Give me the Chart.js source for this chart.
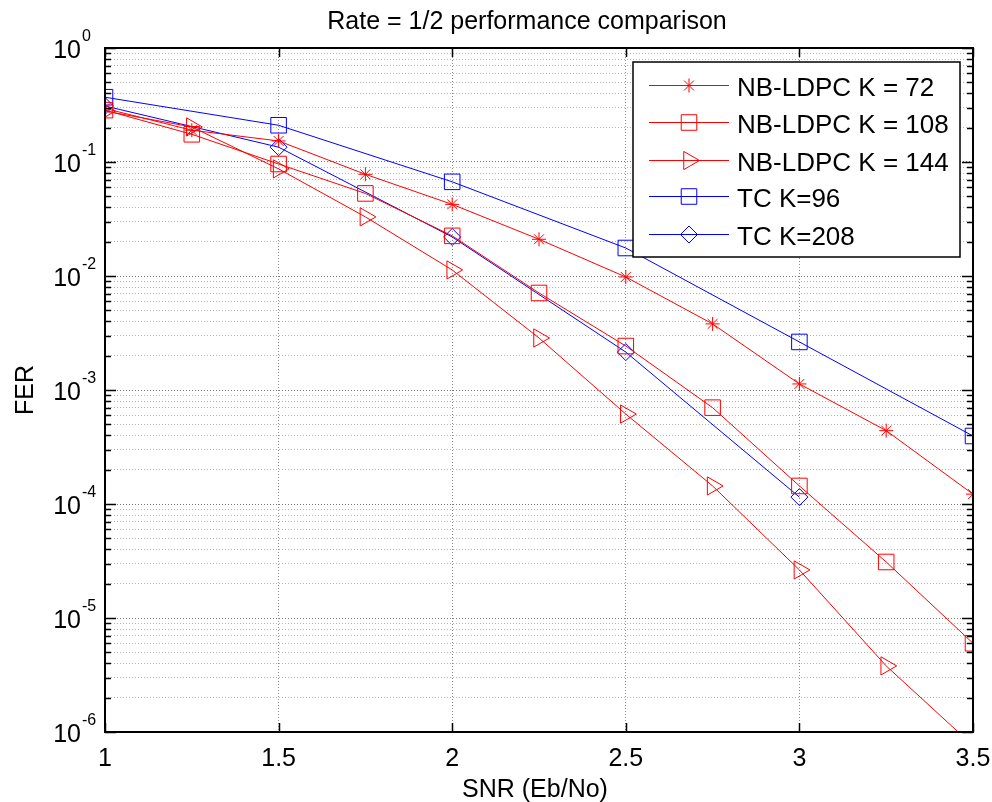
<!DOCTYPE html>
<html>
<head>
<meta charset="utf-8">
<script src="https://cdn.jsdelivr.net/npm/chart.js@4.4.1/dist/chart.umd.min.js"></script>
<style>
  html, body { margin: 0; padding: 0; background: #fff; }
  #wrap { width: 992px; height: 802px; }
</style>
</head>
<body>
<div id="wrap"><canvas id="c" width="992" height="802"></canvas></div>
<script>
// ---- data ----
const snrLdpc = [1, 1.25, 1.5, 1.75, 2, 2.25, 2.5, 2.75, 3, 3.25, 3.5];
const snrTc = [1, 1.5, 2, 2.5, 3, 3.5];
const ferLdpc72  = [0.295, 0.19, 0.153, 0.078, 0.0425, 0.021, 0.0098, 0.0038, 0.00113, 0.00044, 0.000122];
const ferLdpc108 = [0.285, 0.175, 0.096, 0.053, 0.0225, 0.0071, 0.00243, 0.0007, 0.000144, 0.000031, 0.000006];
const ferLdpc144 = [0.28, 0.203, 0.087, 0.033, 0.0113, 0.00286, 0.000615, 0.000144, 0.0000264, 0.0000038, 0.00000076];
const ferTc96  = [0.37, 0.21, 0.067, 0.0176, 0.00264, 0.000395];
const ferTc208 = [0.31, 0.135, 0.022, 0.00215, 0.000115];
const seriesLabels = ['NB-LDPC K = 72', 'NB-LDPC K = 108', 'NB-LDPC K = 144', 'TC K=96', 'TC K=208'];
const xTickLabels = ['1', '1.5', '2', '2.5', '3', '3.5'];
const yTickExponents = [0, -1, -2, -3, -4, -5, -6];
const titleText = 'Rate = 1/2 performance comparison';
const xTitle = 'SNR (Eb/No)';
const yTitle = 'FER';

const FONT = '"Liberation Sans", Arial, sans-serif';
const RED = '#ff0000', BLUE = '#0000ff';

function pts(xs, ys) { return ys.map((v, i) => ({ x: xs[i], y: v })); }
function mk(label, xs, ys, color, style, radius, rotation) {
  return {
    label, data: pts(xs, ys), borderColor: color, borderWidth: 1,
    pointStyle: style, pointRadius: radius, pointHoverRadius: radius, pointRotation: rotation || 0,
    pointBorderColor: color, pointBackgroundColor: 'rgba(0,0,0,0)', pointBorderWidth: 1,
    fill: false, tension: 0
  };
}
const datasets = [
  mk(seriesLabels[0], snrLdpc, ferLdpc72, RED, 'star', 7),
  mk(seriesLabels[1], snrLdpc, ferLdpc108, RED, 'rect', 11),
  mk(seriesLabels[2], snrLdpc, ferLdpc144, RED, 'triangle', 10.5, 90),
  mk(seriesLabels[3], snrTc, ferTc96, BLUE, 'rect', 11),
  mk(seriesLabels[4], snrTc.slice(0, ferTc208.length), ferTc208, BLUE, 'rectRot', 8.5)
];

function isDecade(v) { const l = Math.log10(v); return Math.abs(l - Math.round(l)) < 1e-6; }

function drawMarker(ctx, style, r, rot, x, y) {
  if (Chart.helpers && Chart.helpers.drawPoint) {
    Chart.helpers.drawPoint(ctx, { pointStyle: style, radius: r, rotation: rot || 0, borderWidth: 1 }, x, y);
    return;
  }
  ctx.beginPath();
  if (style === 'rect') { const s = r * Math.SQRT1_2; ctx.rect(x - s, y - s, 2 * s, 2 * s); }
  else if (style === 'rectRot') { ctx.moveTo(x - r, y); ctx.lineTo(x, y - r); ctx.lineTo(x + r, y); ctx.lineTo(x, y + r); ctx.closePath(); }
  else if (style === 'triangle') { ctx.moveTo(x + r, y); ctx.lineTo(x - r / 2, y - r * 0.866); ctx.lineTo(x - r / 2, y + r * 0.866); ctx.closePath(); }
  else if (style === 'star') {
    ctx.moveTo(x, y - r); ctx.lineTo(x, y + r); ctx.moveTo(x - r, y); ctx.lineTo(x + r, y);
    const d = r * Math.SQRT1_2;
    ctx.moveTo(x - d, y - d); ctx.lineTo(x + d, y + d); ctx.moveTo(x - d, y + d); ctx.lineTo(x + d, y - d);
  }
  ctx.stroke();
}

const deco = {
  id: 'deco',
  beforeDraw(chart) {
    const ctx = chart.ctx;
    ctx.save(); ctx.fillStyle = '#fff'; ctx.fillRect(0, 0, chart.width, chart.height); ctx.restore();
  },
  afterDraw(chart) {
    const { ctx, chartArea: a, scales: { x, y } } = chart;
    ctx.save();
    // inward ticks
    ctx.strokeStyle = '#000'; ctx.lineWidth = 1.5;
    y.ticks.forEach(t => {
      const py = Math.round(y.getPixelForValue(t.value)) + 0.5;
      const len = isDecade(t.value) ? 11 : 6;
      ctx.beginPath();
      ctx.moveTo(a.left, py); ctx.lineTo(a.left + len, py);
      ctx.moveTo(a.right, py); ctx.lineTo(a.right - len, py);
      ctx.stroke();
    });
    x.ticks.forEach(t => {
      const px = Math.round(x.getPixelForValue(t.value)) + 0.5;
      ctx.beginPath();
      ctx.moveTo(px, a.bottom); ctx.lineTo(px, a.bottom - 9);
      ctx.moveTo(px, a.top); ctx.lineTo(px, a.top + 9);
      ctx.stroke();
    });
    // box
    ctx.lineWidth = 2;
    ctx.strokeRect(a.left, a.top, a.right - a.left, a.bottom - a.top);
    // y tick labels 10^n
    ctx.fillStyle = '#000';
    yTickExponents.forEach(e => {
      const py = y.getPixelForValue(Math.pow(10, e));
      ctx.font = '25px ' + FONT; ctx.textAlign = 'right'; ctx.textBaseline = 'alphabetic';
      ctx.fillText('10', 81, py + 10);
      ctx.font = '16px ' + FONT; ctx.textAlign = 'left';
      ctx.fillText(String(e), 82, py - 7);
    });
    // title
    ctx.font = '25px ' + FONT; ctx.textAlign = 'center'; ctx.textBaseline = 'alphabetic';
    ctx.fillText(titleText, 527, 29);
    // x title
    ctx.font = '25px ' + FONT;
    ctx.fillText(xTitle, 535, 797);
    // y title
    ctx.save();
    ctx.translate(33, (a.top + a.bottom) / 2);
    ctx.rotate(-Math.PI / 2);
    ctx.fillText(yTitle, 0, 0);
    ctx.restore();
    // legend
    const L = { l: 633, t: 62, r: 960, b: 257 };
    ctx.fillStyle = '#fff';
    ctx.fillRect(L.l, L.t, L.r - L.l, L.b - L.t);
    ctx.strokeStyle = '#000'; ctx.lineWidth = 1.5;
    ctx.strokeRect(L.l, L.t, L.r - L.l, L.b - L.t);
    const rowY = [85, 122, 160, 196, 234];
    chart.data.datasets.forEach((ds, i) => {
      const yy = rowY[i] + 0.5;
      ctx.strokeStyle = ds.borderColor; ctx.lineWidth = 1;
      ctx.beginPath(); ctx.moveTo(649, yy); ctx.lineTo(729, yy); ctx.stroke();
      ctx.fillStyle = 'rgba(0,0,0,0)';
      drawMarker(ctx, ds.pointStyle, ds.pointRadius, ds.pointRotation, 689, yy);
      ctx.fillStyle = '#000';
      ctx.font = '26px ' + FONT; ctx.textAlign = 'left'; ctx.textBaseline = 'alphabetic';
      ctx.fillText(ds.label, 737, rowY[i] + 11);
    });
    ctx.restore();
  }
};

new Chart(document.getElementById('c'), {
  type: 'line',
  data: { datasets },
  plugins: [deco],
  options: {
    responsive: false,
    animation: false,
    devicePixelRatio: 1,
    layout: { padding: { top: 48, right: 19, left: 0, bottom: 0 } },
    plugins: { legend: { display: false }, title: { display: false }, tooltip: { enabled: false } },
    scales: {
      x: {
        type: 'linear', min: 1, max: 3.5,
        afterFit(s) { s.height = 70; s.paddingRight = 0; s.paddingLeft = 0; },
        afterBuildTicks(s) { s.ticks = xTickLabels.map(v => ({ value: parseFloat(v) })); },
        ticks: {
          autoSkip: false, padding: 12, color: '#000', font: { size: 25, family: FONT },
          callback(v) { return xTickLabels.find(t => parseFloat(t) === v) || ''; }
        },
        grid: { color: '#8c8c8c', lineWidth: 1, drawTicks: false },
        border: { display: false, dash: [1, 2] }
      },
      y: {
        type: 'logarithmic', min: 1e-6, max: 1,
        afterFit(s) { s.width = 105; },
        afterBuildTicks(s) {
          const t = [];
          for (let e = -6; e < 0; e++) for (let m = 1; m <= 9; m++) t.push({ value: m * Math.pow(10, e) });
          t.push({ value: 1 });
          s.ticks = t;
        },
        ticks: { autoSkip: false, callback() { return ''; } },
        grid: {
          color: c => (c.tick && isDecade(c.tick.value)) ? '#7a7a7a' : '#b4b4b4',
          lineWidth: 1, drawTicks: false
        },
        border: { display: false, dash: [1, 2] }
      }
    }
  }
});
</script>
</body>
</html>
